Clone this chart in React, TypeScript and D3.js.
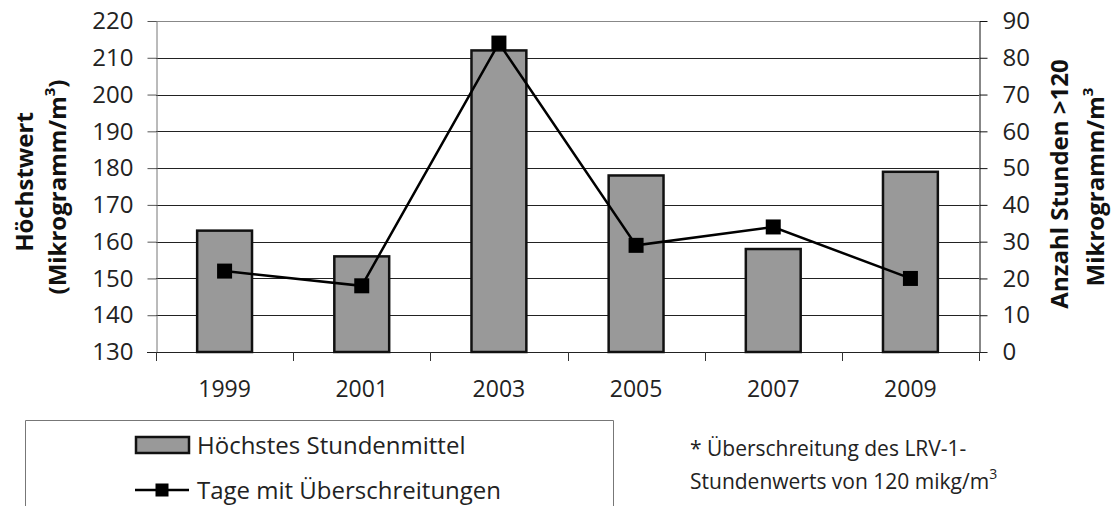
import {useEffect, useRef} from "react";
import * as d3 from 'd3';

const years = ['1999', '2001', '2003', '2005', '2007', '2009'];
const hoechstesStundenmittel = [163, 156, 212, 178, 158, 179];
const tageUeberschreitungen = [22, 18, 84, 29, 34, 20];
const leftTicks = [130, 140, 150, 160, 170, 180, 190, 200, 210, 220];
const rightTicks = [0, 10, 20, 30, 40, 50, 60, 70, 80, 90];

const App = () => {
    const svgRef = useRef<SVGSVGElement | null>(null);

    useEffect(() => {
        const width = 1113;
        const height = 506;
        const m = {left: 156, right: 979, top: 21, bottom: 352};
        const font = '"Open Sans", sans-serif';

        const svg = d3.select(svgRef.current);
        svg.selectAll('*').remove();
        svg.attr('width', width).attr('height', height)
            .style('font-family', font);

        const x = d3.scaleBand<string>().domain(years).range([m.left, m.right]);
        const yL = d3.scaleLinear().domain([130, 220]).range([m.bottom, m.top]);
        const yR = d3.scaleLinear().domain([0, 90]).range([m.bottom, m.top]);
        const bw = x.bandwidth();
        const barW = bw * 0.4;
        const cx = (d: string) => (x(d) ?? 0) + bw / 2;
        const crisp = (v: number) => Math.round(v) + 0.5;

        // gridlines
        svg.append('g').selectAll('line')
            .data(leftTicks.slice(1))
            .join('line')
            .attr('x1', m.left).attr('x2', m.right)
            .attr('y1', d => crisp(yL(d))).attr('y2', d => crisp(yL(d)))
            .attr('stroke', d => d === 220 ? '#888' : '#222')
            .attr('stroke-width', 1);

        // left axis
        const left = svg.append('g')
            .attr('transform', `translate(${crisp(m.left)},0)`)
            .call(d3.axisLeft(yL).tickValues(leftTicks).tickSize(9).tickSizeOuter(0).tickPadding(14));
        left.select('.domain').attr('stroke', '#777');
        left.selectAll('.tick line').attr('stroke', '#555');
        left.selectAll('text').attr('font-size', 24).attr('fill', '#222').attr('font-family', font);

        // right axis
        const right = svg.append('g')
            .attr('transform', `translate(${crisp(m.right)},0)`)
            .call(d3.axisRight(yR).tickValues(rightTicks).tickSize(8).tickSizeOuter(0).tickPadding(15));
        right.select('.domain').attr('stroke', '#111');
        right.selectAll('.tick line').attr('stroke', '#111');
        right.selectAll('text').attr('font-size', 24).attr('fill', '#222').attr('font-family', font);

        // bottom axis
        svg.append('line')
            .attr('x1', m.left - 9).attr('x2', m.right + 8)
            .attr('y1', crisp(m.bottom)).attr('y2', crisp(m.bottom))
            .attr('stroke', '#222');
        const bounds = [...years.map(d => x(d) ?? 0), m.right];
        svg.append('g').selectAll('line')
            .data(bounds)
            .join('line')
            .attr('x1', d => crisp(d)).attr('x2', d => crisp(d))
            .attr('y1', m.bottom).attr('y2', m.bottom + 9)
            .attr('stroke', '#333');
        svg.append('g').selectAll('text')
            .data(years)
            .join('text')
            .attr('x', d => cx(d)).attr('y', 397)
            .attr('text-anchor', 'middle')
            .attr('font-size', 23).attr('fill', '#222')
            .text(d => d);

        // bars
        svg.append('g').selectAll('rect')
            .data(years)
            .join('rect')
            .attr('x', d => cx(d) - barW / 2)
            .attr('width', barW)
            .attr('y', (d, i) => yL(hoechstesStundenmittel[i]))
            .attr('height', (d, i) => m.bottom - yL(hoechstesStundenmittel[i]))
            .attr('fill', '#999999')
            .attr('stroke', '#111')
            .attr('stroke-width', 2.5);

        // line + markers
        const line = d3.line<number>()
            .x((d, i) => cx(years[i]))
            .y(d => yR(d));
        svg.append('path')
            .datum(tageUeberschreitungen)
            .attr('d', line)
            .attr('fill', 'none')
            .attr('stroke', '#000')
            .attr('stroke-width', 2.5);
        svg.append('g').selectAll('rect')
            .data(tageUeberschreitungen)
            .join('rect')
            .attr('x', (d, i) => cx(years[i]) - 7.5)
            .attr('y', d => yR(d) - 7.5)
            .attr('width', 15).attr('height', 15)
            .attr('fill', '#000');

        // axis titles
        const t1 = svg.append('g').attr('transform', 'translate(33,182) rotate(-90)');
        t1.append('text').attr('text-anchor', 'middle').attr('font-size', 24).attr('font-weight', 'bold')
            .attr('fill', '#111').text('Höchstwert');
        const t2 = svg.append('g').attr('transform', 'translate(66,187) rotate(-90)')
            .append('text').attr('text-anchor', 'middle').attr('font-size', 24).attr('font-weight', 'bold')
            .attr('fill', '#111');
        t2.append('tspan').text('(Mikrogramm/m');
        t2.append('tspan').attr('font-size', 15).attr('dy', -11).text('3');
        t2.append('tspan').attr('dy', 11).text(')');

        const t3 = svg.append('g').attr('transform', 'translate(1068,184) rotate(-90)');
        t3.append('text').attr('text-anchor', 'middle').attr('font-size', 24).attr('font-weight', 'bold')
            .attr('fill', '#111').text('Anzahl Stunden >120');
        const t4 = svg.append('g').attr('transform', 'translate(1104,187) rotate(-90)')
            .append('text').attr('text-anchor', 'middle').attr('font-size', 24).attr('font-weight', 'bold')
            .attr('fill', '#111');
        t4.append('tspan').text('Mikrogramm/m');
        t4.append('tspan').attr('font-size', 15).attr('dy', -11).text('3');

        // legend box
        svg.append('path')
            .attr('d', 'M25.5,506 V420.5 H613.5 V506')
            .attr('fill', 'none')
            .attr('stroke', '#777');
        svg.append('rect')
            .attr('x', 136).attr('y', 437).attr('width', 53).attr('height', 16)
            .attr('fill', '#999999').attr('stroke', '#111').attr('stroke-width', 2.5);
        svg.append('text').attr('x', 197).attr('y', 454).attr('font-size', 24).attr('fill', '#222')
            .text('Höchstes Stundenmittel');
        svg.append('line')
            .attr('x1', 135).attr('x2', 189).attr('y1', 490).attr('y2', 490)
            .attr('stroke', '#000').attr('stroke-width', 2.5);
        svg.append('rect')
            .attr('x', 155.5).attr('y', 483.5).attr('width', 13).attr('height', 13)
            .attr('fill', '#000');
        svg.append('text').attr('x', 197).attr('y', 499).attr('font-size', 24).attr('fill', '#222')
            .text('Tage mit Überschreitungen');

        // footnote
        svg.append('text').attr('x', 690).attr('y', 456).attr('font-size', 21).attr('fill', '#222')
            .text('* Überschreitung des LRV-1-');
        const f2 = svg.append('text').attr('x', 690).attr('y', 489).attr('font-size', 21).attr('fill', '#222');
        f2.append('tspan').text('Stundenwerts von 120 mikg/m');
        f2.append('tspan').attr('font-size', 14).attr('dy', -10).text('3');
    }, []);

    return <svg ref={svgRef} style={{position: 'absolute', left: 0, top: 0}}></svg>;
};

export default App;
